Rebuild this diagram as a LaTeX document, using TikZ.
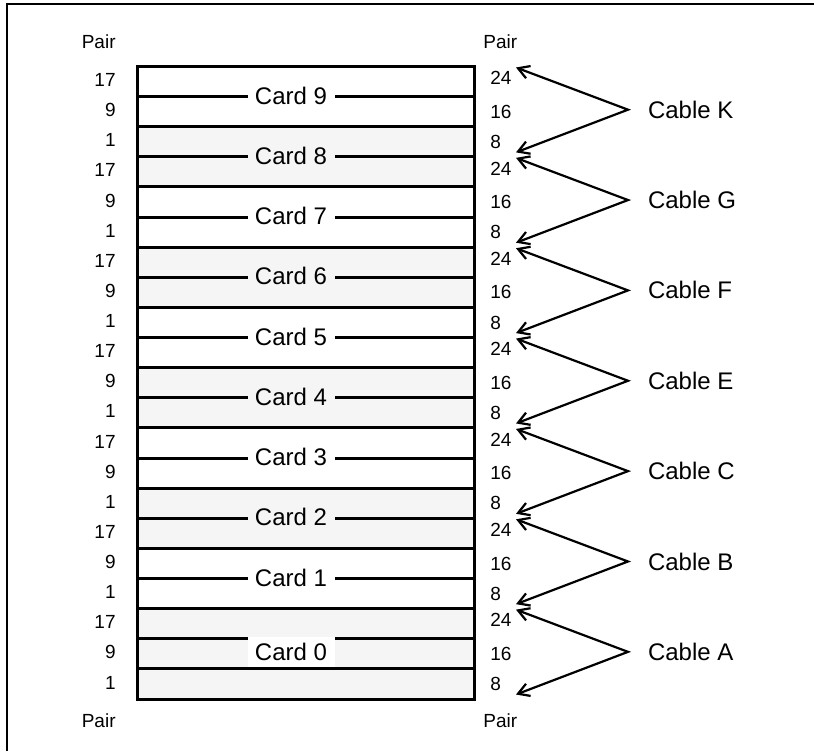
\documentclass[tikz,border=0pt]{standalone}
\usepackage{fontspec}
\setmainfont{Liberation Sans}
\usetikzlibrary{arrows.meta,positioning}
\definecolor{bandgray}{RGB}{245,245,245}
\tikzset{
    % Rack outline and slot lines
    slotline/.style={line width=1.5pt},
    band/.style={fill=bandgray},
    % Card names sitting on the slot lines
    cardlabel/.style={
        inner xsep=3pt, inner ysep=1pt, minimum width=43.5pt,
        font=\fontsize{12}{14}\selectfont
    },
    % Pair numbers beside the rack
    pairnum/.style={inner sep=0pt, font=\fontsize{9.5}{11}\selectfont},
    % Cable names and their arrows
    cable/.style={
        anchor=west, inner xsep=0pt, outer xsep=10pt,
        font=\fontsize{12}{14}\selectfont
    },
    cablearrow/.style={
        line width=1.1pt, line join=miter,
        {Straight Barb[length=5.5pt,width=6.5pt]}-{Straight Barb[length=5.5pt,width=6.5pt]}
    }
}

\begin{document}
\begin{tikzpicture}[x=0.5pt, y=-0.5pt]
\useasboundingbox (0,0) rectangle (814,751);

% Frame
\draw[line width=0.6pt] (7,751) -- (7,4) -- (814,4);

% Shaded card slots
\fill[band] (137.5,126.74) rectangle (474,186.98);
\fill[band] (137.5,247.22) rectangle (474,307.46);
\fill[band] (137.5,367.7) rectangle (474,427.94);
\fill[band] (137.5,488.18) rectangle (474,548.42);
\fill[band] (137.5,608.66) rectangle (474,699.02);

% Slot lines and rack outline
\foreach \k in {1,...,20}
    \draw[slotline] (137.5,{66.5+30.12*\k}) -- (474,{66.5+30.12*\k});
\draw[slotline] (137.5,66.5) rectangle (474,699.02);

% Cards
\node[cardlabel, fill=white] (card9) at (291,95.5) {Card 9};
\node[cardlabel, fill=bandgray] (card8) at (291,155.8) {Card 8};
\node[cardlabel, fill=white] (card7) at (291,216) {Card 7};
\node[cardlabel, fill=bandgray] (card6) at (291,276.3) {Card 6};
\node[cardlabel, fill=white] (card5) at (291,336.5) {Card 5};
\node[cardlabel, fill=bandgray] (card4) at (291,396.8) {Card 4};
\node[cardlabel, fill=white] (card3) at (291,457) {Card 3};
\node[cardlabel, fill=bandgray] (card2) at (291,517.3) {Card 2};
\node[cardlabel, fill=white] (card1) at (291,577.5) {Card 1};
\node[cardlabel, fill=white, minimum height=15pt] (card0) at (291,652) {Card 0};

% Pair numbers, three per cable
\foreach \g in {0,...,6}
    \foreach \i/\l/\r/\d in {0/17/24/-2.5, 1/9/16/1, 2/1/8/1} {
        \node[pairnum, anchor=east] (lp\g\i) at (116,{80.56+30.12*(3*\g+\i)-0.5}) {\l};
        \node[pairnum, anchor=west] (rp\g\i) at (490,{80.56+30.12*(3*\g+\i)+\d}) {\r};
    }
\node[pairnum, anchor=east] (pairTL) at (116,42) {Pair};
\node[pairnum, anchor=west] (pairTR) at (483,42) {Pair};
\node[pairnum, anchor=east] (pairBL) at (116,721) {Pair};
\node[pairnum, anchor=west] (pairBR) at (483,721) {Pair};

% Cables
\foreach \c/\g in {K/0, G/1, F/2, E/3, C/4, B/5, A/6} {
    \node[cable] (cab\c) at (628,{80.56+30.12*(3*\g+1)-1}) {Cable \c};
    \coordinate (top\c) at (516,{67.5+90.36*\g});
    \coordinate (bot\c) at (516,{152.36+90.36*\g});
    \draw[cablearrow] (top\c) -- (cab\c.west) -- (bot\c);
}

\end{tikzpicture}
\end{document}
